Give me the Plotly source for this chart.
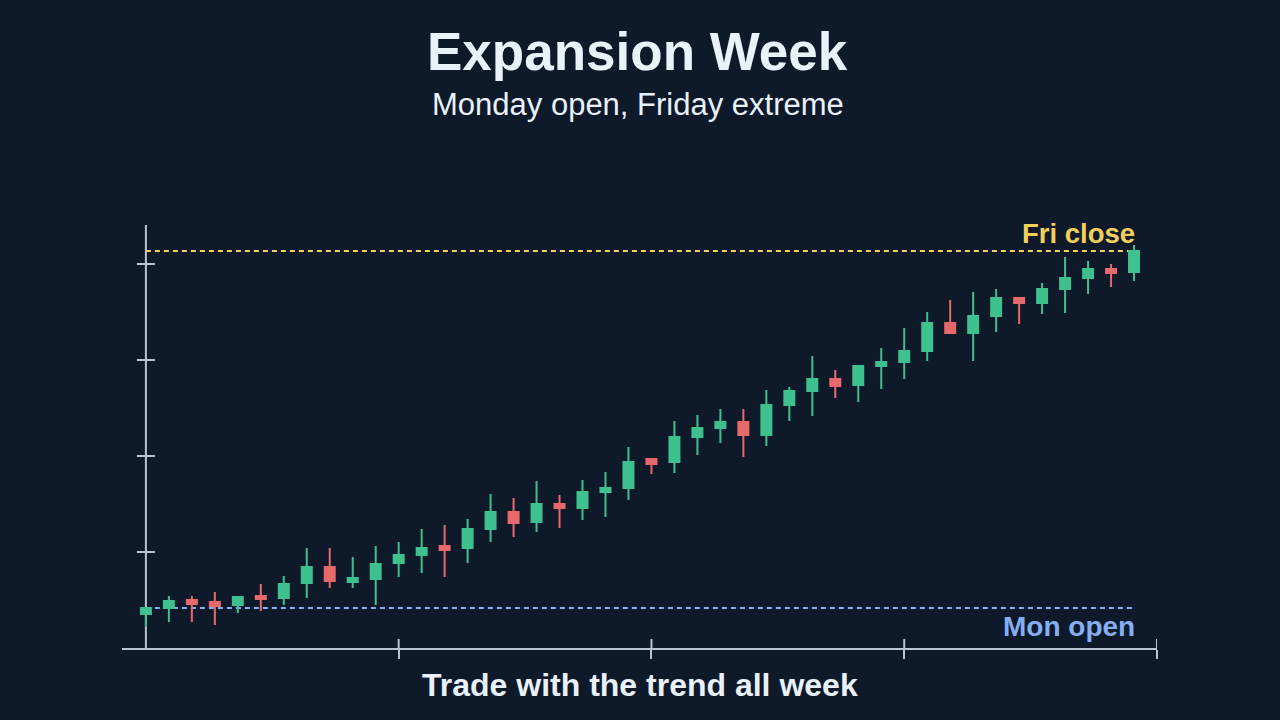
import plotly.graph_objects as go

# ---- data (price index, arbitrary units) ----
sessions = list(range(44))
opens = [1034, 1040, 1048, 1046, 1043, 1052, 1050, 1065, 1081, 1066,
         1069, 1085, 1093, 1102, 1100, 1119, 1136, 1126, 1144, 1140,
         1156, 1160, 1189, 1186, 1211, 1220, 1226, 1213, 1243, 1257,
         1269, 1263, 1282, 1286, 1297, 1325, 1315, 1332, 1350, 1345,
         1359, 1370, 1379, 1376]
highs = [1040, 1052, 1052, 1056, 1051, 1064, 1072, 1100, 1100, 1091,
         1102, 1106, 1119, 1123, 1129, 1154, 1150, 1167, 1153, 1168,
         1176, 1201, 1190, 1227, 1233, 1239, 1239, 1258, 1261, 1292,
         1278, 1282, 1300, 1320, 1336, 1348, 1356, 1359, 1351, 1365,
         1391, 1387, 1384, 1403]
lows = [1021, 1026, 1026, 1023, 1035, 1037, 1043, 1050, 1060, 1060,
        1043, 1071, 1075, 1071, 1085, 1106, 1111, 1116, 1120, 1128,
        1131, 1148, 1174, 1175, 1193, 1205, 1191, 1202, 1227, 1232,
        1250, 1246, 1259, 1269, 1287, 1314, 1287, 1316, 1324, 1334,
        1335, 1354, 1361, 1367]
closes = [1040, 1047, 1044, 1042, 1051, 1049, 1064, 1081, 1067, 1070,
          1084, 1093, 1100, 1098, 1119, 1136, 1125, 1144, 1140, 1156,
          1160, 1186, 1184, 1211, 1220, 1226, 1213, 1243, 1257, 1269,
          1262, 1282, 1286, 1297, 1325, 1315, 1332, 1350, 1345, 1359,
          1370, 1379, 1375, 1397]
mon_open = 1040
fri_close = closes[-1]
y_ticks = [1096, 1192, 1288, 1384]
x_ticks = [11, 22, 33, 44]
y_range = [1000, 1423]
x_range = [-1.04, 44.0]

# ---- styles ----
BG = "#0e1a2a"
AXIS = "#b9c3d1"
GREEN = "#3ec08f"
RED = "#e8696b"
YELLOW = "#f4cf5c"
BLUE = "#86aef2"
TEXT = "#e9f1fb"
FONT = "Liberation Sans, Arial, sans-serif"

fig = go.Figure()
fig.add_trace(go.Candlestick(
    x=sessions, open=opens, high=highs, low=lows, close=closes,
    increasing=dict(line=dict(color=GREEN, width=2), fillcolor=GREEN),
    decreasing=dict(line=dict(color=RED, width=2), fillcolor=RED),
    whiskerwidth=0, hoverinfo="skip", showlegend=False,
))

shapes = []
# reference lines
shapes.append(dict(type="line", xref="x", yref="y", x0=sessions[0], x1=sessions[-1],
                   y0=fri_close, y1=fri_close, layer="below",
                   line=dict(color=YELLOW, width=2, dash="5px,4px")))
shapes.append(dict(type="line", xref="x", yref="y", x0=sessions[0], x1=sessions[-1],
                   y0=mon_open, y1=mon_open, layer="below",
                   line=dict(color=BLUE, width=2, dash="5px,4px")))
# y axis line at x = 0
shapes.append(dict(type="line", xref="x", yref="paper", x0=0, x1=0, y0=0, y1=1,
                   layer="below", line=dict(color=AXIS, width=2)))
# y ticks crossing the axis
for v in y_ticks:
    shapes.append(dict(type="line", xref="x", yref="y", xsizemode="pixel", xanchor=0,
                       x0=-9, x1=9, y0=v, y1=v, layer="below",
                       line=dict(color=AXIS, width=2)))
# inner halves of x ticks
for t in x_ticks:
    shapes.append(dict(type="line", xref="x", yref="paper", ysizemode="pixel", yanchor=0,
                       x0=t, x1=t, y0=0, y1=9, layer="below",
                       line=dict(color=AXIS, width=2)))

annotations = [
    dict(text="<b>Expansion Week</b>", xref="paper", yref="paper", x=0.4985, y=1.410,
         xanchor="center", yanchor="middle", showarrow=False,
         font=dict(family=FONT, size=53, color=TEXT)),
    dict(text="Monday open, Friday extreme", xref="paper", yref="paper", x=0.4985, y=1.286,
         xanchor="center", yanchor="middle", showarrow=False,
         font=dict(family=FONT, size=31, color=TEXT)),
    dict(text="<b>Trade with the trend all week</b>", xref="paper", yref="paper", x=0.5, y=-0.0875,
         xanchor="center", yanchor="middle", showarrow=False,
         font=dict(family=FONT, size=32, color=TEXT)),
    dict(text="<b>Fri close</b>", xref="x", yref="y", x=sessions[-1], y=fri_close,
         xanchor="right", yanchor="middle", xshift=3, yshift=17.5, showarrow=False,
         font=dict(family=FONT, size=27.5, color=YELLOW)),
    dict(text="<b>Mon open</b>", xref="x", yref="y", x=sessions[-1], y=mon_open,
         xanchor="right", yanchor="middle", xshift=3, yshift=-18, showarrow=False,
         font=dict(family=FONT, size=28, color=BLUE)),
]

fig.update_layout(
    width=1280, height=720,
    margin=dict(l=122, r=123, t=225, b=72),
    paper_bgcolor=BG, plot_bgcolor=BG,
    showlegend=False, hovermode=False,
    shapes=shapes, annotations=annotations,
    boxgap=0.38,
    xaxis=dict(range=x_range, showgrid=False, zeroline=False, showline=True,
               linecolor=AXIS, linewidth=2, ticks="outside", ticklen=9, tickwidth=2,
               tickcolor=AXIS, tickvals=x_ticks, showticklabels=False,
               rangeslider=dict(visible=False), fixedrange=True),
    yaxis=dict(range=y_range, showgrid=False, zeroline=False, showline=False,
               showticklabels=False, ticks="", fixedrange=True),
)

fig.write_html("out.html", config={"displayModeBar": False})
